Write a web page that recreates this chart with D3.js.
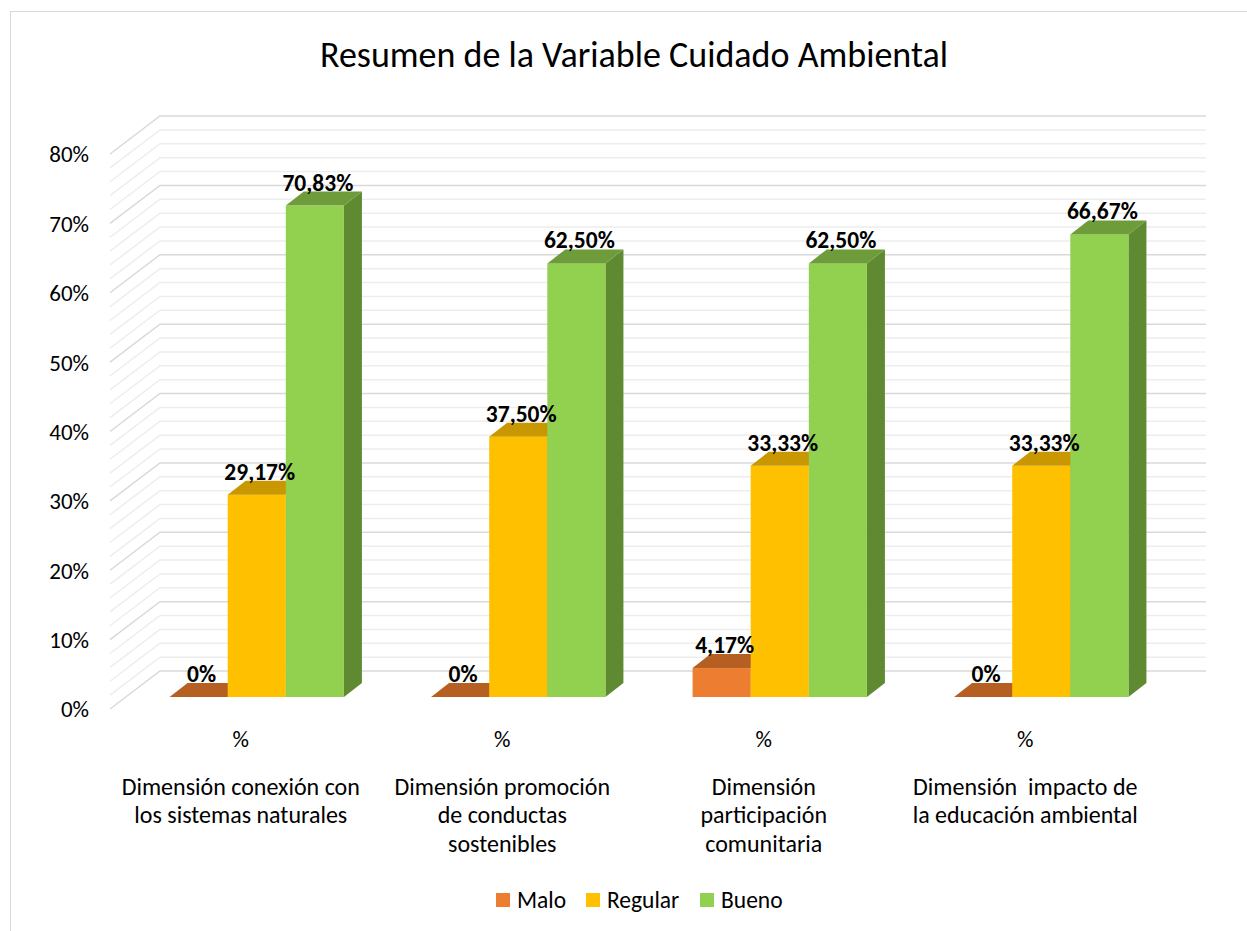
<!DOCTYPE html>
<html>
<head>
<meta charset="utf-8">
<script src="https://cdn.jsdelivr.net/npm/d3@7"></script>
<style>
  body { margin: 0; background: #fff; }
  text { font-family: Calibri, Carlito, Lato, sans-serif; fill: #000; white-space: pre; }
</style>
</head>
<body>
<div id="chart"></div>
<script>
// data
const categories = [
    "Dimensión conexión con los sistemas naturales",
    "Dimensión promoción de conductas sostenibles",
    "Dimensión participación comunitaria",
    "Dimensión  impacto de la educación ambiental"
];
const categoryLines = [
    ["Dimensión conexión con", "los sistemas naturales"],
    ["Dimensión promoción", "de conductas", "sostenibles"],
    ["Dimensión", "participación", "comunitaria"],
    ["Dimensión  impacto de", "la educación ambiental"]
];
const seriesNames = ["Malo", "Regular", "Bueno"];
const malo = [0, 0, 4.17, 0];
const regular = [29.17, 37.50, 33.33, 33.33];
const bueno = [70.83, 62.50, 62.50, 66.67];
const valueLabels = [
    ["0%", "0%", "4,17%", "0%"],
    ["29,17%", "37,50%", "33,33%", "33,33%"],
    ["70,83%", "62,50%", "62,50%", "66,67%"]
];
const yTicks = [0, 10, 20, 30, 40, 50, 60, 70, 80];
const axisUnit = "%";

const seriesValues = [malo, regular, bueno];
const colors = {
    front: ["#ED7D31", "#FFC000", "#92D050"],
    top:   ["#B65F23", "#C99700", "#6E9C3B"],
    side:  ["#A6561F", "#B78A00", "#5F8A32"]
};

const width = 1247, height = 931;

// 3d geometry
const wall = { dx: 50, dy: 38 };      // side wall depth
const bar = { dx: 18, dy: 14, base: 697, shift: 16 };

const svg = d3.select('#chart').append('svg')
    .attr('width', width).attr('height', height);

svg.append('rect')
    .attr('x', 10.5).attr('y', 11.5)
    .attr('width', width).attr('height', height)
    .attr('fill', 'none').attr('stroke', '#D9D9D9');

svg.append('text')
    .attr('x', 634).attr('y', 58)
    .attr('text-anchor', 'middle').attr('dominant-baseline', 'middle')
    .style('font-size', '36px')
    .text('Resumen de la Variable Cuidado Ambiental');

// back wall scale
const y = d3.scaleLinear().domain([0, 80]).range([671, 116]);
const barH = v => y(0) - y(v);

const xFront = d3.scaleBand().domain(categories).range([110, 1156]).paddingInner(1 / 3).paddingOuter(1 / 6);
const xInner = d3.scaleBand().domain(seriesNames).range([0, xFront.bandwidth()]);

const backLeft = 110 + wall.dx, backRight = 1156 + wall.dx;

// gridlines: minor every 2%, major every 10%
const grid = svg.append('g');
const minor = d3.range(0, 81, 2).filter(v => v % 10 !== 0);
grid.selectAll('.minor').data(minor).enter().append('polyline')
    .attr('points', v => `${backLeft - wall.dx},${y(v) + wall.dy} ${backLeft},${y(v)} ${backRight},${y(v)}`)
    .attr('fill', 'none').attr('stroke', '#EDEDED').attr('stroke-width', 1.5);
grid.selectAll('.major').data(yTicks).enter().append('polyline')
    .attr('points', v => `${backLeft - wall.dx},${y(v) + wall.dy} ${backLeft},${y(v)} ${backRight},${y(v)}`)
    .attr('fill', 'none').attr('stroke', '#D9D9D9').attr('stroke-width', 1.5);

// y tick labels
svg.append('g').selectAll('text').data(yTicks).enter().append('text')
    .attr('x', 89).attr('y', v => y(v) + wall.dy + 3)
    .attr('text-anchor', 'end').attr('dominant-baseline', 'middle')
    .style('font-size', '23px')
    .text(v => v + '%');

// bars
const bars = svg.append('g');
categories.forEach((c, i) => {
    seriesNames.forEach((s, j) => {
        const v = seriesValues[j][i];
        const x0 = xFront(c) + bar.shift + xInner(s);
        const x1 = x0 + xInner.bandwidth();
        const yt = bar.base - barH(v);
        const yb = bar.base;
        const g = bars.append('g');
        if (v > 0) {
            g.append('polygon')
                .attr('points', `${x1},${yt} ${x1 + bar.dx},${yt - bar.dy} ${x1 + bar.dx},${yb - bar.dy} ${x1},${yb}`)
                .attr('fill', colors.side[j]);
            g.append('rect')
                .attr('x', x0).attr('y', yt)
                .attr('width', x1 - x0).attr('height', yb - yt)
                .attr('fill', colors.front[j]);
        }
        g.append('polygon')
            .attr('points', `${x0},${yt} ${x1},${yt} ${x1 + bar.dx},${yt - bar.dy} ${x0 + bar.dx},${yt - bar.dy}`)
            .attr('fill', colors.top[j]);
    });
});

// value labels
categories.forEach((c, i) => {
    seriesNames.forEach((s, j) => {
        const v = seriesValues[j][i];
        const xc = xFront(c) + bar.shift + xInner(s) + xInner.bandwidth() / 2 + 3;
        svg.append('text')
            .attr('x', xc).attr('y', bar.base - barH(v) - bar.dy - 1)
            .attr('text-anchor', 'middle')
            .style('font-size', '23.5px').style('font-weight', 'bold')
            .text(valueLabels[j][i]);
    });
});

// category axis labels
const cat = svg.append('g').selectAll('g').data(categories).enter().append('g')
    .attr('transform', c => `translate(${xFront(c) + xFront.bandwidth() / 2},0)`);
cat.append('text')
    .attr('y', 742).attr('text-anchor', 'middle').attr('dominant-baseline', 'middle')
    .style('font-size', '23px')
    .text(axisUnit);
cat.each(function (c, i) {
    d3.select(this).selectAll('.line').data(categoryLines[i]).enter().append('text')
        .attr('y', (d, k) => 789 + k * 28.5)
        .attr('text-anchor', 'middle').attr('dominant-baseline', 'middle')
        .style('font-size', '24px')
        .text(d => d);
});

// legend
const legendX = [496, 586, 700];
const legend = svg.append('g').selectAll('g').data(seriesNames).enter().append('g')
    .attr('transform', (d, j) => `translate(${legendX[j]},900)`);
legend.append('rect')
    .attr('x', 0).attr('y', -7).attr('width', 14).attr('height', 14)
    .attr('fill', (d, j) => colors.front[j]);
legend.append('text')
    .attr('x', 21).attr('y', 2).attr('dominant-baseline', 'middle')
    .style('font-size', '23.5px')
    .text(d => d);
</script>
</body>
</html>
